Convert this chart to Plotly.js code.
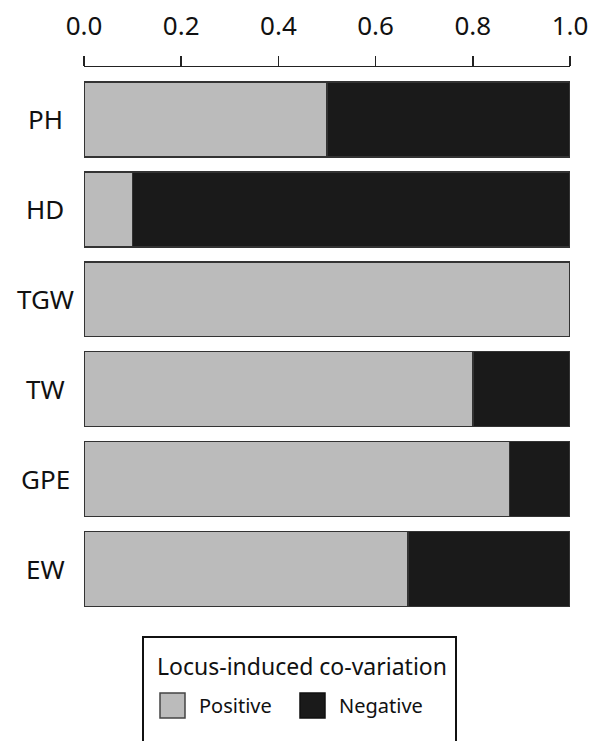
<!DOCTYPE html>
<html>
<head>
<meta charset="utf-8">
<script src="https://cdn.plot.ly/plotly-3.0.1.min.js"></script>
<style>html,body{margin:0;padding:0;background:#fff;}#chart{width:592px;height:741px;}</style>
</head>
<body>
<div id="chart"></div>
<script>
const traits = ["PH", "HD", "TGW", "TW", "GPE", "EW"];
const positive = [0.50, 0.10, 1.00, 0.80, 0.875, 0.667];
const negative = [0.50, 0.90, 0.00, 0.20, 0.125, 0.333];
const xTicks = [0, 0.2, 0.4, 0.6, 0.8, 1.0];
const xTickLabels = ["0.0", "0.2", "0.4", "0.6", "0.8", "1.0"];
const legendTitle = "Locus-induced co-variation";
const seriesNames = ["Positive", "Negative"];
const seriesColors = ["#bbbbbb", "#1a1a1a"];

const FONT = "Noto Sans, Open Sans, sans-serif";
const lineStyle = {color: "#333333", width: 1.5};

// pixel -> paper helpers (plot area: x 84..570, y 67..614)
const PL = 84, PW = 486, PB = 614, PH_ = 547;
const px = v => (v - PL) / PW;
const py = v => (PB - v) / PH_;

const data = [
  {type: "bar", orientation: "h", name: seriesNames[0], y: traits, x: positive,
   marker: {color: seriesColors[0], line: lineStyle}, hoverinfo: "x+y+name"},
  {type: "bar", orientation: "h", name: seriesNames[1], y: traits, x: negative,
   marker: {color: seriesColors[1], line: lineStyle}, hoverinfo: "x+y+name"}
];

// category labels (centered, as in the reference)
const annotations = traits.map(t => ({
  xref: "paper", yref: "y", x: px(45), y: t, xanchor: "center", yanchor: "middle",
  text: t, showarrow: false, font: {size: 26, family: FONT, color: "#111"}
}));

// legend box, title, swatches and labels
annotations.push({
  xref: "paper", yref: "paper", x: px(155), y: py(666), xanchor: "left", yanchor: "middle",
  text: legendTitle, showarrow: false, font: {size: 23, family: FONT, color: "#111"}
});
const swatchLeft = [160, 300];
const labelLeft = [197, 337];
const shapes = [{
  type: "rect", xref: "paper", yref: "paper",
  x0: px(143), x1: px(456), y0: py(637), y1: py(760),
  line: {color: "#111", width: 2}, fillcolor: "rgba(0,0,0,0)"
}];
seriesNames.forEach((n, i) => {
  shapes.push({
    type: "rect", xref: "paper", yref: "paper",
    x0: px(swatchLeft[i]), x1: px(swatchLeft[i] + 25), y0: py(693), y1: py(718),
    line: {color: i === 0 ? "#444" : "#111", width: 1.5}, fillcolor: seriesColors[i]
  });
  annotations.push({
    xref: "paper", yref: "paper", x: px(labelLeft[i]), y: py(705), xanchor: "left", yanchor: "middle",
    text: n, showarrow: false, font: {size: 20, family: FONT, color: "#111"}
  });
});

const layout = {
  width: 592, height: 741,
  margin: {l: 84, r: 22, t: 67, b: 127},
  paper_bgcolor: "#ffffff", plot_bgcolor: "#ffffff",
  font: {family: FONT, color: "#111111"},
  barmode: "stack",
  bargap: 0.167,
  showlegend: false,
  xaxis: {
    side: "top", range: [0, 1], tickvals: xTicks, ticktext: xTickLabels,
    ticks: "outside", ticklen: 10, tickwidth: 1.5, tickcolor: "#222",
    showline: true, linecolor: "#222", linewidth: 1.5,
    showgrid: false, zeroline: false,
    tickfont: {size: 26, family: FONT, color: "#111"},
    ticklabelstandoff: 10, fixedrange: true
  },
  yaxis: {
    categoryorder: "array", categoryarray: traits,
    range: [5.5, -0.583], showline: false, ticks: "", showgrid: false, zeroline: false,
    showticklabels: false, fixedrange: true
  },
  annotations: annotations,
  shapes: shapes
};

Plotly.newPlot("chart", data, layout, {displayModeBar: false, staticPlot: true});
</script>
</body>
</html>
